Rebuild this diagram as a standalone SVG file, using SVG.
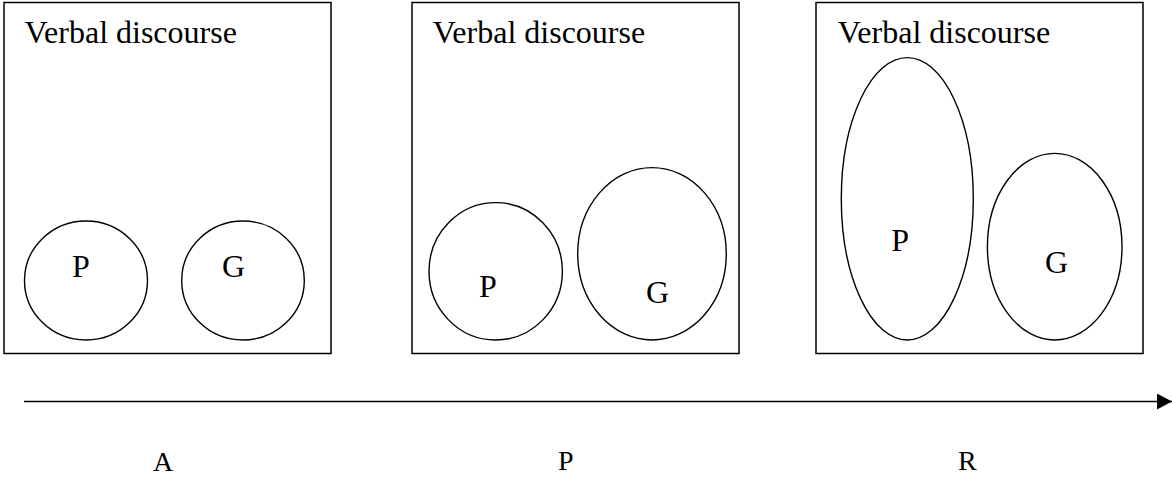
<svg xmlns="http://www.w3.org/2000/svg" width="1172" height="480" viewBox="0 0 1172 480">
<style>
.box{fill:#fff;stroke:#000;stroke-width:1.5}
.ell{fill:none;stroke:#000;stroke-width:1.4}
.t{font-family:"Liberation Serif","Times New Roman",serif;fill:#000}
.title{font-size:32px}
.lbl{font-size:32px}
.ax{font-size:28px}
</style>
<defs>
<marker id="arr" markerWidth="15" markerHeight="16" refX="15" refY="8" orient="auto" markerUnits="userSpaceOnUse">
<path d="M0,0 L15,8 L0,16 Z" fill="#000"/>
</marker>
</defs>
<rect width="1172" height="480" fill="#fff"/>
<g id="stage-A">
<rect class="box" x="4" y="2.5" width="327" height="351"/>
<text class="t title" x="24.5" y="43">Verbal discourse</text>
<g id="A-P"><ellipse class="ell" cx="86" cy="280.5" rx="61.5" ry="59.5"/><text class="t lbl" x="72" y="277">P</text></g>
<g id="A-G"><ellipse class="ell" cx="243" cy="280.5" rx="61.3" ry="59.5"/><text class="t lbl" x="222" y="277">G</text></g>
</g>
<g id="stage-P">
<rect class="box" x="412" y="2.5" width="327" height="351"/>
<text class="t title" x="432.8" y="43">Verbal discourse</text>
<g id="P-P"><ellipse class="ell" cx="495.7" cy="271.3" rx="66.7" ry="68.7"/><text class="t lbl" x="479" y="296.7">P</text></g>
<g id="P-G"><ellipse class="ell" cx="652" cy="253.8" rx="74.3" ry="86.2"/><text class="t lbl" x="646" y="302.7">G</text></g>
</g>
<g id="stage-R">
<rect class="box" x="816" y="2.5" width="327" height="351"/>
<text class="t title" x="837.8" y="43">Verbal discourse</text>
<g id="R-P"><ellipse class="ell" cx="907.3" cy="198.8" rx="66" ry="141.2"/><text class="t lbl" x="891.3" y="250.7">P</text></g>
<g id="R-G"><ellipse class="ell" cx="1054.7" cy="246.7" rx="67.3" ry="93.3"/><text class="t lbl" x="1045" y="272.7">G</text></g>
</g>
<g id="connectors">
<line x1="24" y1="401.5" x2="1172" y2="401.5" stroke="#000" stroke-width="1.5" marker-end="url(#arr)"/>
</g>
<g id="axis-labels">
<text class="t ax" x="153" y="470.7">A</text>
<text class="t ax" x="558" y="470">P</text>
<text class="t ax" x="958" y="470">R</text>
</g>
</svg>
